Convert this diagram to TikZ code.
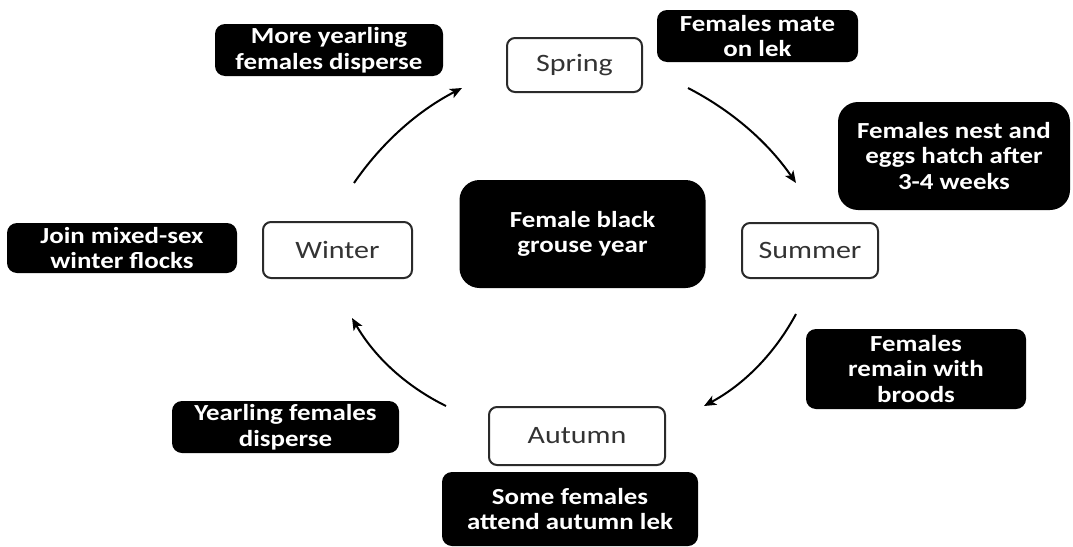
\documentclass[tikz,border=0pt]{standalone}
\usepackage{fontspec}
\setmainfont{Carlito}
\newfontfamily\boxfont{Carlito}[FakeStretch=1.17]
\newfontfamily\seasonfont{Carlito}[FakeStretch=1.2]
\usetikzlibrary{arrows.meta}
\definecolor{seasontext}{HTML}{333333}
\definecolor{seasonline}{HTML}{2A2A2A}
\tikzset{
  blk/.style={fill=black, rounded corners=10pt, text=white, align=center,
    inner sep=0pt, font=\boxfont\bfseries\fontsize{23}{25.5}\selectfont},
  season/.style={draw=seasonline, line width=2pt, fill=white, rounded corners=8pt,
    text=seasontext, inner sep=0pt, font=\seasonfont\fontsize{25}{28}\selectfont},
  cyc/.style={line width=2pt, -{Stealth[length=12pt,width=10pt,inset=3pt]}},
}
\begin{document}
\begin{tikzpicture}[x=1pt,y=-1pt]
\useasboundingbox (0,0) rectangle (1073,546);
% season boxes
\node[season, minimum width=135pt, minimum height=54pt] (spring) at (574.5,65) {Spring};
\node[season, minimum width=136pt, minimum height=55pt] (summer) at (810,250.5) {Summer};
\node[season, minimum width=176pt, minimum height=58pt] (autumn) at (577,436) {Autumn};
\node[season, minimum width=149pt, minimum height=56pt] (winter) at (337.5,250) {Winter};
% centre
\node[blk, rounded corners=20pt, minimum width=246pt, minimum height=108pt] (centre) at (582.5,234) {Female black\\grouse year};
% event boxes
\node[blk, minimum width=228pt, minimum height=52pt] (moreyr) at (329,50) {More yearling\\females disperse};
\node[blk, minimum width=201pt, minimum height=52pt] (mate) at (757.5,36) {Females mate\\on lek};
\node[blk, rounded corners=20pt, minimum width=232pt, minimum height=108pt] (nest) at (954,156) {Females nest and\\eggs hatch after\\3-4 weeks};
\node[blk, minimum width=220pt, minimum height=80pt] (remain) at (916,369) {Females\\remain with\\broods};
\node[blk, minimum width=256pt, minimum height=74pt] (some) at (570,509) {Some females\\attend autumn lek};
\node[blk, minimum width=227pt, minimum height=52pt] (yrl) at (285.5,427) {Yearling females\\disperse};
\node[blk, minimum width=230pt, minimum height=50pt] (join) at (122,248) {Join mixed-sex\\winter flocks};
% arrow end points
\coordinate (sp1) at (688,88);
\coordinate (su0) at (796,183);
\coordinate (su1) at (796,314);
\coordinate (au0) at (704,406);
\coordinate (au1) at (446,406);
\coordinate (wi0) at (352,318);
\coordinate (wi1) at (354,183);
\coordinate (sp0) at (462,88);
\draw[cyc] (sp1) .. controls (732,110.7) and (768,142.3) .. (su0);
\draw[cyc] (su1) .. controls (774.5,353.9) and (743.9,384.5) .. (au0);
\draw[cyc] (au1) .. controls (405.8,386.2) and (374.4,356.8) .. (wi0);
\draw[cyc] (wi1) .. controls (382,142.3) and (418,110.7) .. (sp0);
\end{tikzpicture}
\end{document}
